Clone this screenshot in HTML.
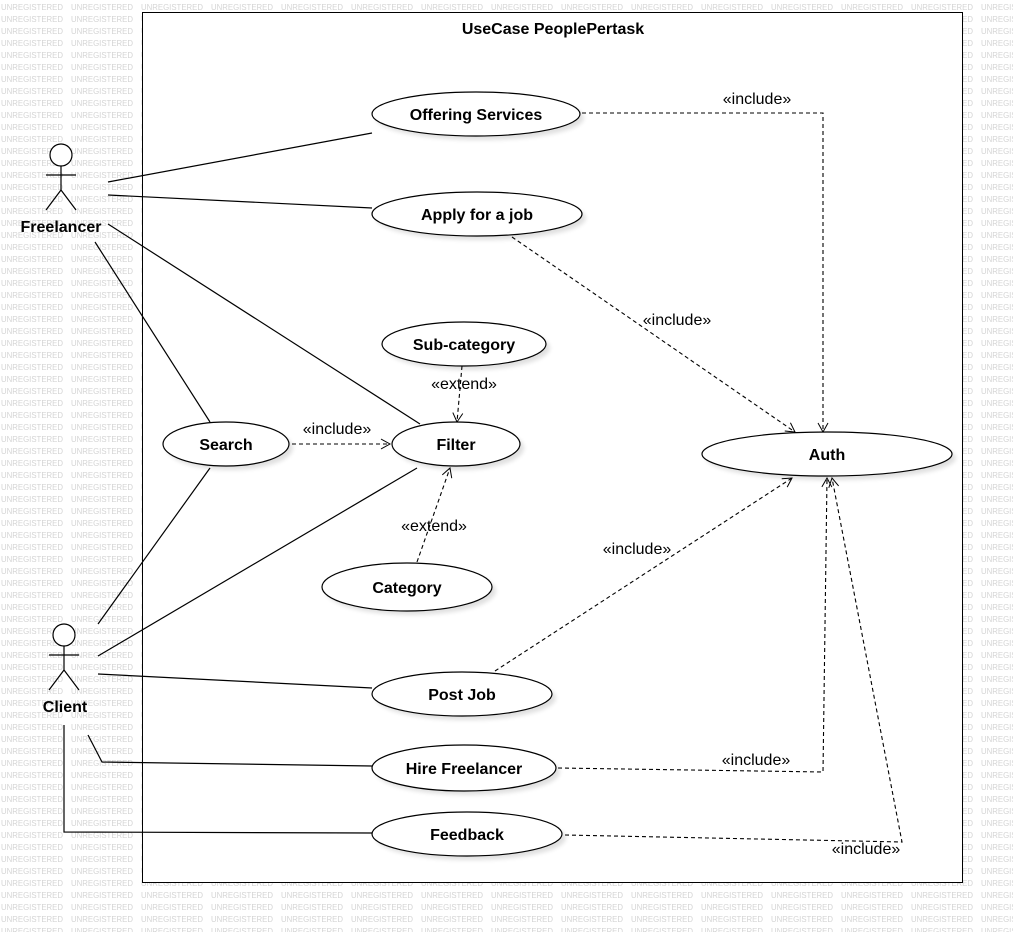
<!DOCTYPE html>
<html><head><meta charset="utf-8"><style>
html,body{margin:0;padding:0;background:#fff}
svg{display:block}
text{font-family:"Liberation Sans",Arial,sans-serif}
</style></head><body>
<svg width="1013" height="932" viewBox="0 0 1013 932" xmlns="http://www.w3.org/2000/svg">
<defs>
<pattern id="wm" x="0" y="0" width="70" height="12" patternUnits="userSpaceOnUse">
<text x="1" y="10" font-size="8.5" fill="#d4d4d4" textLength="62" lengthAdjust="spacingAndGlyphs">UNREGISTERED</text>
</pattern>
<filter id="sh" x="-10%" y="-20%" width="130%" height="160%"><feGaussianBlur stdDeviation="2"/></filter>
<marker id="ar" markerWidth="12" markerHeight="12" refX="10" refY="6" orient="auto" markerUnits="userSpaceOnUse">
<path d="M1,1 L10,6 L1,11" fill="none" stroke="#000" stroke-width="1"/>
</marker>
</defs>
<rect width="1013" height="932" fill="url(#wm)"/>
<rect x="142.5" y="12.5" width="820" height="870" fill="#fff" stroke="#000" stroke-width="1"/>
<text x="553" y="34" font-size="16" font-weight="bold" text-anchor="middle">UseCase PeoplePertask</text>

<g stroke="#000" stroke-width="1.2" fill="none">
<line x1="108" y1="182" x2="372" y2="133"/>
<line x1="108" y1="195" x2="372" y2="208"/>
<line x1="108" y1="224" x2="420" y2="424"/>
<line x1="95" y1="242" x2="210" y2="422"/>
<line x1="98" y1="624" x2="210" y2="468"/>
<line x1="98" y1="656" x2="417" y2="468"/>
<line x1="98" y1="674" x2="372" y2="688"/>
<polyline points="88,735 102,762 372,766"/>
<polyline points="64,725 64,832 372,833"/>
</g>

<g stroke="#000" stroke-width="1.1" fill="none" stroke-dasharray="4,3">
<polyline points="582,113 823,113 823,432" marker-end="url(#ar)"/>
<line x1="512" y1="237" x2="795" y2="432" marker-end="url(#ar)"/>
<line x1="462" y1="366" x2="457" y2="422" marker-end="url(#ar)"/>
<line x1="292" y1="444" x2="390" y2="444" marker-end="url(#ar)"/>
<line x1="417" y1="562" x2="450" y2="468" marker-end="url(#ar)"/>
<line x1="495" y1="671" x2="792" y2="478" marker-end="url(#ar)"/>
<polyline points="558,768 823,772 827,478" marker-end="url(#ar)"/>
<polyline points="565,835 902,842 832,478" marker-end="url(#ar)"/>
</g>

<g font-size="16" fill="#000" text-anchor="middle">
<text x="757" y="104">«include»</text>
<text x="677" y="325">«include»</text>
<text x="464" y="389">«extend»</text>
<text x="337" y="434">«include»</text>
<text x="434" y="531">«extend»</text>
<text x="637" y="554">«include»</text>
<text x="756" y="765">«include»</text>
<text x="866" y="854">«include»</text>
</g>

<g>
<g fill="#000" opacity="0.12" filter="url(#sh)">
<ellipse cx="480" cy="118" rx="104" ry="22"/>
<ellipse cx="481" cy="218" rx="105" ry="22"/>
<ellipse cx="468" cy="348" rx="82" ry="22"/>
<ellipse cx="230" cy="448" rx="63" ry="22"/>
<ellipse cx="460" cy="448" rx="64" ry="22"/>
<ellipse cx="831" cy="458" rx="125" ry="22"/>
<ellipse cx="411" cy="591" rx="85" ry="24"/>
<ellipse cx="466" cy="698" rx="90" ry="22"/>
<ellipse cx="468" cy="772" rx="92" ry="23"/>
<ellipse cx="471" cy="838" rx="95" ry="22"/>
</g>
<g fill="#fff" stroke="#000" stroke-width="1.2">
<ellipse cx="476" cy="114" rx="104" ry="22"/>
<ellipse cx="477" cy="214" rx="105" ry="22"/>
<ellipse cx="464" cy="344" rx="82" ry="22"/>
<ellipse cx="226" cy="444" rx="63" ry="22"/>
<ellipse cx="456" cy="444" rx="64" ry="22"/>
<ellipse cx="827" cy="454" rx="125" ry="22"/>
<ellipse cx="407" cy="587" rx="85" ry="24"/>
<ellipse cx="462" cy="694" rx="90" ry="22"/>
<ellipse cx="464" cy="768" rx="92" ry="23"/>
<ellipse cx="467" cy="834" rx="95" ry="22"/>
</g>
<g font-size="16" font-weight="bold" text-anchor="middle" fill="#000">
<text x="476" y="120">Offering Services</text>
<text x="477" y="220">Apply for a job</text>
<text x="464" y="350">Sub-category</text>
<text x="226" y="450">Search</text>
<text x="456" y="450">Filter</text>
<text x="827" y="460">Auth</text>
<text x="407" y="593">Category</text>
<text x="462" y="700">Post Job</text>
<text x="464" y="774">Hire Freelancer</text>
<text x="467" y="840">Feedback</text>
</g>
</g>

<g stroke="#000" stroke-width="1.2" fill="#fff">
<circle cx="61" cy="155" r="11"/>
<line x1="61" y1="166" x2="61" y2="190"/>
<line x1="46" y1="175" x2="76" y2="175"/>
<polyline points="46,210 61,190 76,210" fill="none"/>
<circle cx="64" cy="635" r="11"/>
<line x1="64" y1="646" x2="64" y2="670"/>
<line x1="49" y1="655" x2="79" y2="655"/>
<polyline points="49,690 64,670 79,690" fill="none"/>
</g>
<g font-size="16" font-weight="bold" text-anchor="middle" fill="#000">
<text x="61" y="232">Freelancer</text>
<text x="65" y="712">Client</text>
</g>
</svg>
</body></html>
